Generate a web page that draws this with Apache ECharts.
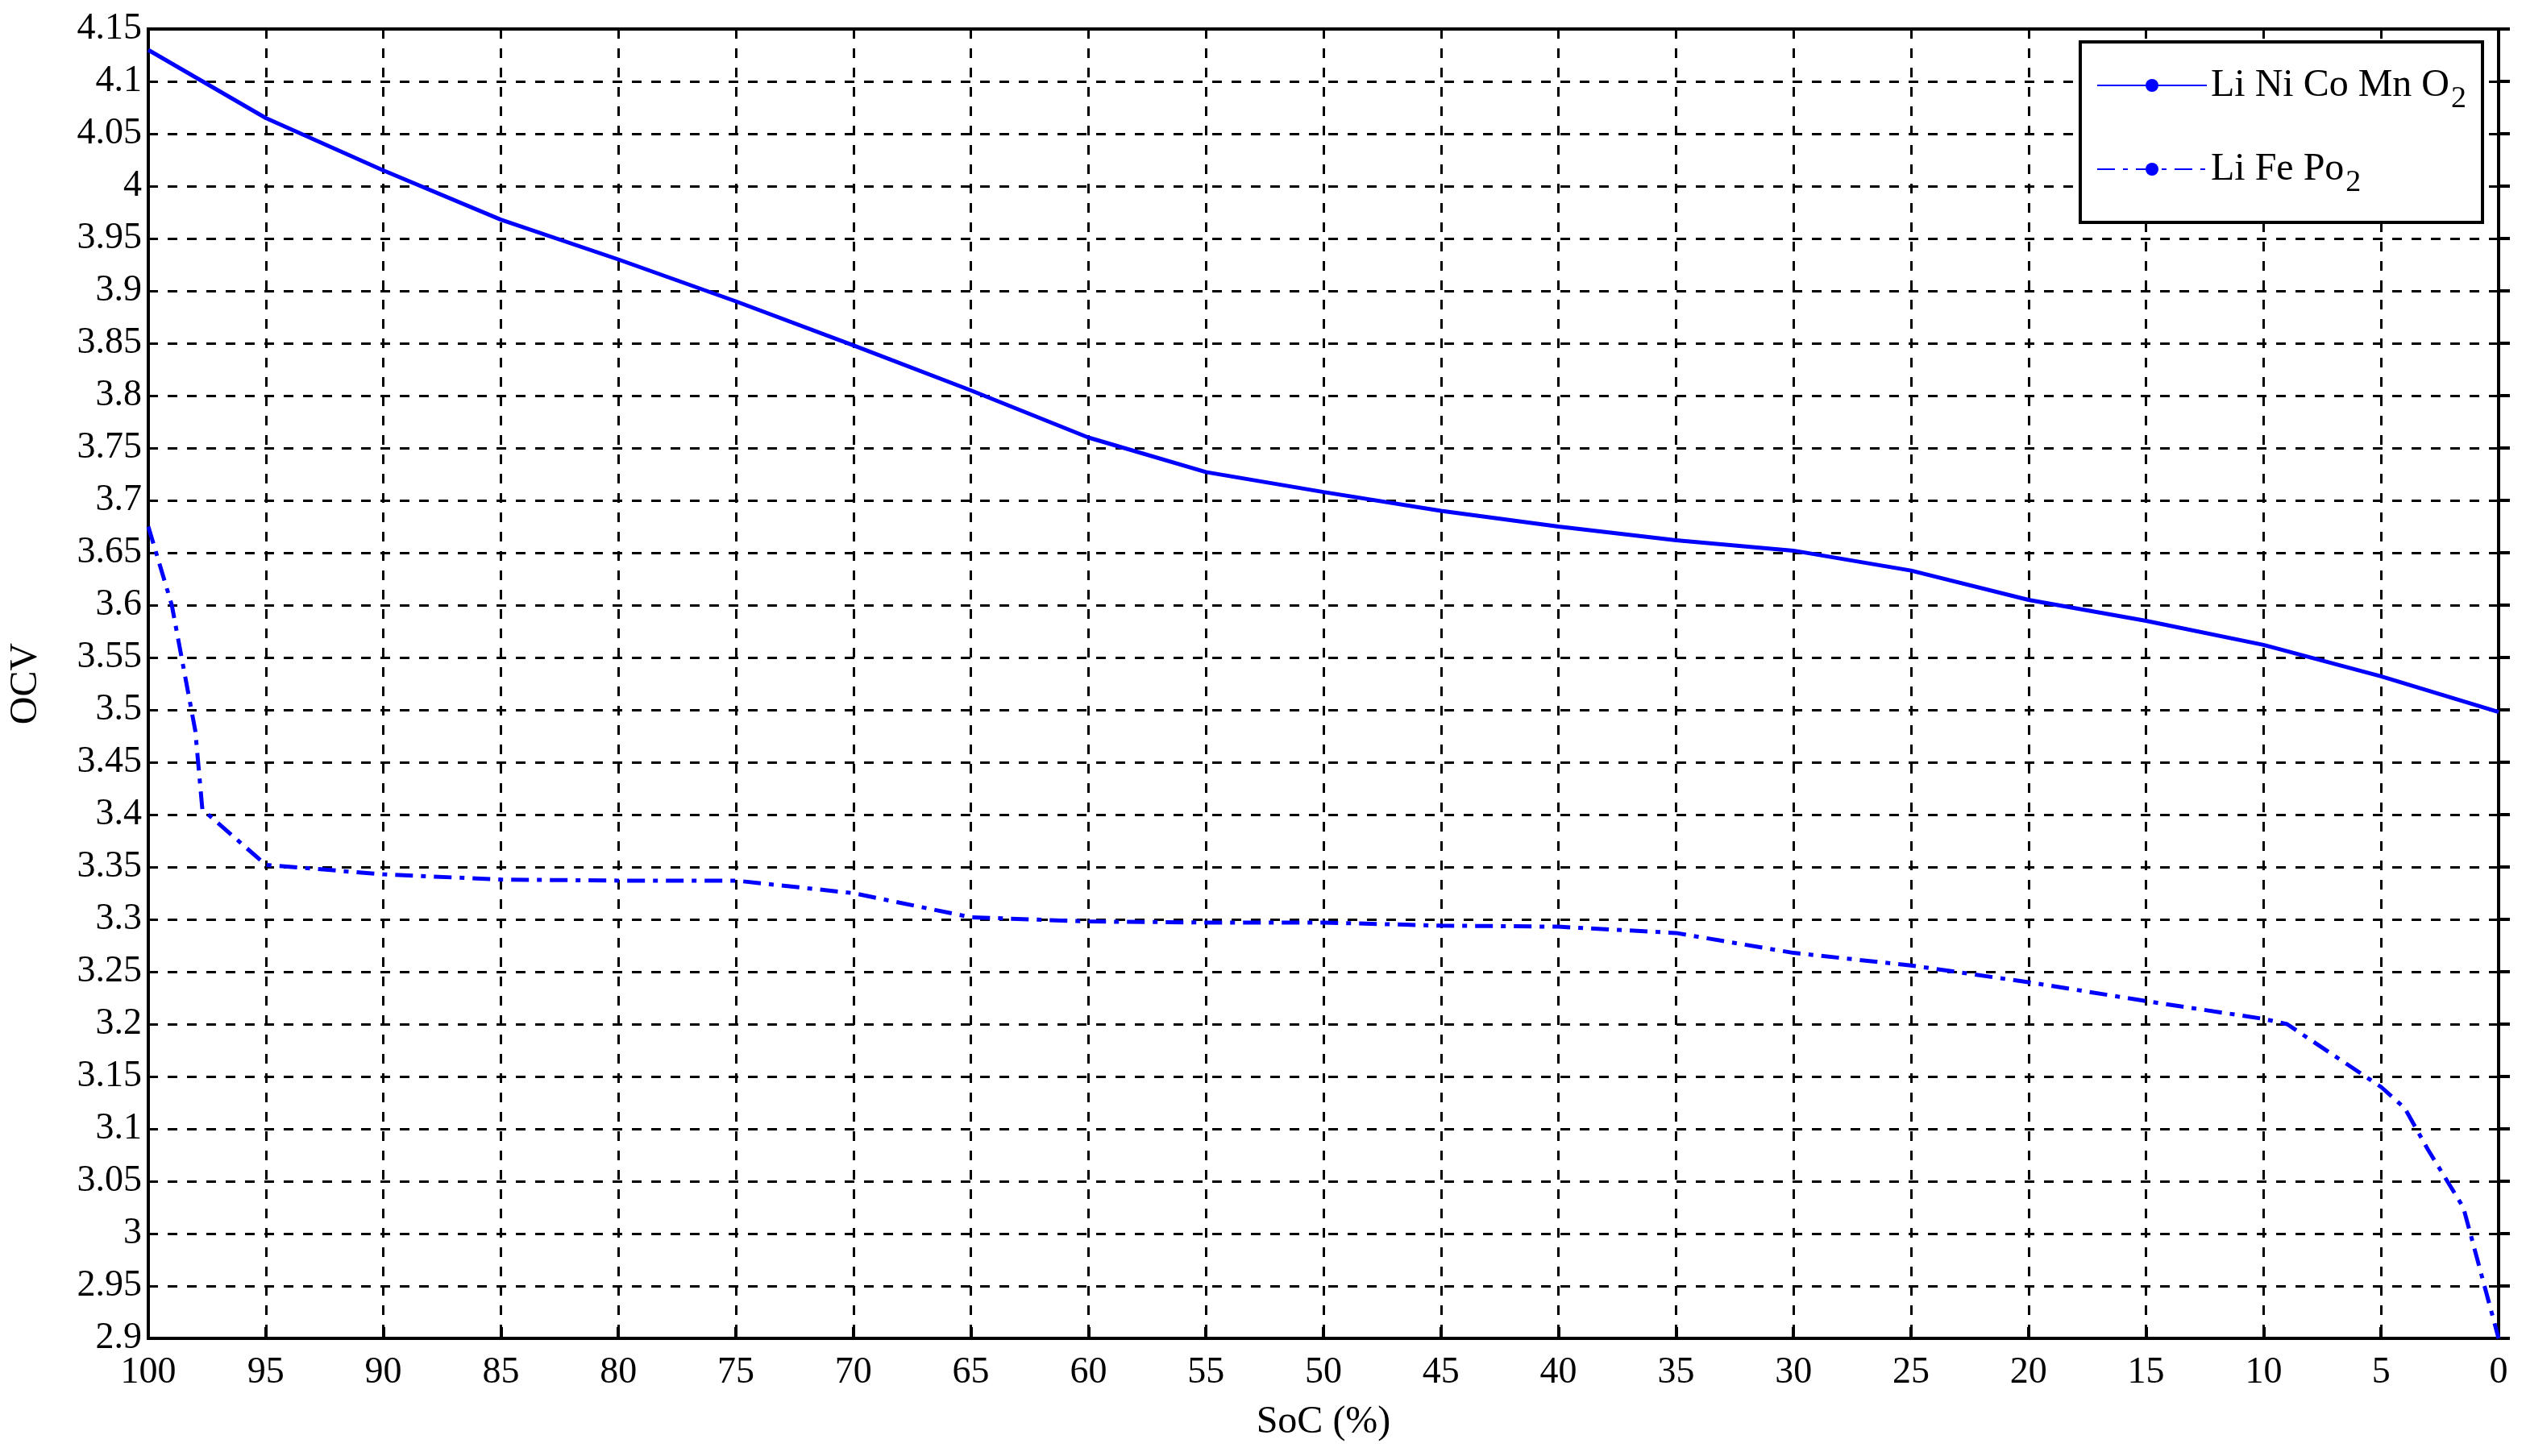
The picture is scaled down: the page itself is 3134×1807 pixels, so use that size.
<!DOCTYPE html>
<html><head><meta charset="utf-8">
<script src="https://cdn.jsdelivr.net/npm/echarts@6/dist/echarts.min.js"></script>
<style>html,body{margin:0;background:#fff}#c{width:3134px;height:1807px}</style></head>
<body><div id="c"></div>
<script>
const nmcSoc=[100,95,90,85,80,75,70,65,60,55,50,45,40,35,30,25,20,15,10,5,0];
const nmcOcv=[4.13,4.065,4.015,3.968,3.93,3.89,3.848,3.805,3.76,3.727,3.708,3.69,3.675,3.662,3.652,3.633,3.605,3.585,3.562,3.532,3.498];
const lfpSoc=[100,99,98,97.7,95,90,85,80,75,70,65,60,55,50,45,40,35,30,25,20,15,10,9,7,5,4,3,1.5,0];
const lfpOcv=[3.675,3.6,3.48,3.405,3.352,3.343,3.338,3.337,3.337,3.325,3.302,3.298,3.297,3.297,3.294,3.293,3.287,3.268,3.256,3.24,3.222,3.205,3.2,3.17,3.14,3.12,3.08,3.025,2.9];
const names=['Li Ni Co Mn O2','Li Fe Po2'];
const ch=echarts.init(document.getElementById('c'));
const F='Liberation Serif';
const ax={axisLine:{lineStyle:{color:'#000',width:4}},axisTick:{inside:true,length:14,lineStyle:{color:'#000',width:4}},
  splitLine:{show:true,lineStyle:{color:'#000',width:3,type:[12,12]}},axisLabel:{color:'#000',fontFamily:F,fontSize:46}};
ch.setOption({
 animation:false,
 grid:{left:177,right:34,top:36,bottom:146,show:true,borderColor:'#000',borderWidth:4},
 legend:{right:54,top:52,orient:'vertical',backgroundColor:'#fff',borderColor:'#000',borderWidth:4,padding:[30,20,30,20],
   itemWidth:136,itemHeight:20,itemGap:44,
   formatter:n=>n==='Li Ni Co Mn O2'?'Li Ni Co Mn O{s|2}':'Li Fe Po{s|2}',
   textStyle:{fontFamily:F,fontSize:48,color:'#000',rich:{s:{fontFamily:F,fontSize:38,padding:[34,0,0,2]}}},
   data:names},
 xAxis:Object.assign({type:'value',min:0,max:100,interval:5,inverse:true,name:'SoC (%)',nameLocation:'middle',nameGap:80,
   nameTextStyle:{fontFamily:F,fontSize:48,color:'#000'}},ax,{axisLabel:Object.assign({},ax.axisLabel,{margin:20})}),
 yAxis:Object.assign({type:'value',min:2.9,max:4.15,interval:0.05,name:'OCV',nameLocation:'middle',nameGap:128,
   nameTextStyle:{fontFamily:F,fontSize:48,color:'#000'}},ax,{axisLabel:Object.assign({},ax.axisLabel,{formatter:v=>String(parseFloat(v.toFixed(2)))})}),
 series:[
  {name:names[0],type:'line',symbol:'none',data:nmcSoc.map((s,i)=>[s,nmcOcv[i]]),lineStyle:{color:'#0000ff',width:5},itemStyle:{color:'#0000ff'}},
  {name:names[1],type:'line',symbol:'none',data:lfpSoc.map((s,i)=>[s,lfpOcv[i]]),lineStyle:{color:'#0000ff',width:5,type:[22,10,6,10]},itemStyle:{color:'#0000ff'}}
 ]
});
</script></body></html>
